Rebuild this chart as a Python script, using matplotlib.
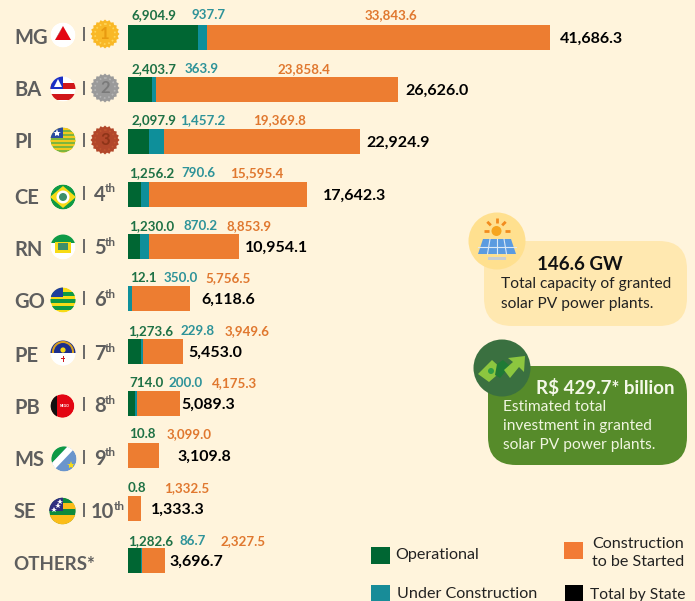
import matplotlib
matplotlib.use("Agg")
import matplotlib.pyplot as plt
import numpy as np
from matplotlib.patches import Circle, FancyBboxPatch, Polygon, Rectangle

plt.rcParams['font.family'] = ['Lato', 'Carlito', 'Open Sans', 'DejaVu Sans']

states = ['MG', 'BA', 'PI', 'CE', 'RN', 'GO', 'PE', 'PB', 'MS', 'SE', 'OTHERS*']
ranks = ['1', '2', '3', '4', '5', '6', '7', '8', '9', '10', '']
operational = [6904.9, 2403.7, 2097.9, 1256.2, 1230.0, 12.1, 1273.6, 714.0, 10.8, 0.8, 1282.6]
under_construction = [937.7, 363.9, 1457.2, 790.6, 870.2, 350.0, 229.8, 200.0, 0, 0, 86.7]
to_be_started = [33843.6, 23858.4, 19369.8, 15595.4, 8853.9, 5756.5, 3949.6, 4175.3, 3099.0, 1332.5, 2327.5]
totals = [41686.3, 26626.0, 22924.9, 17642.3, 10954.1, 6118.6, 5453.0, 5089.3, 3109.8, 1333.3, 3696.7]

# label placement in pixels
op_x = [154, 154, 154, 152, 152, 143, 151, 146, 142, 137, 151]
uc_x = [209, 202, 203, 198, 201, 181, 198, 186, None, None, 193]
ts_x = [391, 304, 279, 257, 249, 228, 247, 235, 189, 187, 243]
tot_x = [560, 405, 366, 323, 245, 201, 188, 181, 177, 151, 169]
lab_y = [15, 69, 120, 173, 226, 278, 331, 383, 434, 488, 541]
bar_y = [37, 89.5, 141.5, 194, 246.5, 298.5, 351, 403, 455.5, 508, 560]
state_y = [37.5, 90.5, 142.5, 197.5, 249.5, 301.5, 355.5, 408.5, 459.5, 512.5, 564.5]
flag_y = [35, 89, 140, 197, 247, 300, 353, 406, 459, 511]
rank_y = [34, 88, 140, 193, 246, 298, 352, 404, 457, 510]

bg = '#FFF4DC'
c_op = '#006633'
c_uc = '#0E8F9A'
c_ts = '#ED7D31'
grey = '#5E5E5E'

W, H = 695, 601
fig = plt.figure(figsize=(W / 100, H / 100), dpi=100, facecolor=bg)

# bars: x=0 sits at pixel 128, 41,686.3 ends at pixel 550
scale = (550 - 128) / 41686.3
ax = fig.add_axes([128 / W, 0, 1 - 128 / W, 1])
ax.set_xlim(0, (W - 128) / scale)
ax.set_ylim(H, 0)
ax.axis('off')
op = np.array(operational)
uc = np.array(under_construction)
ts = np.array(to_be_started)
ax.barh(bar_y, op, height=25, color=c_op)
ax.barh(bar_y, uc, left=op, height=25, color=c_uc)
ax.barh(bar_y, ts, left=op + uc, height=25, color=c_ts)

# overlay in pixel coordinates for text and icons
ov = fig.add_axes([0, 0, 1, 1])
ov.set_xlim(0, W)
ov.set_ylim(H, 0)
ov.axis('off')
ov.patch.set_alpha(0)


def txt(x, y, s, size, color='black', weight='normal', ha='left'):
    return ov.text(x, y, s, fontsize=size, color=color, fontweight=weight, ha=ha, va='center')


for i in range(len(states)):
    txt(op_x[i], lab_y[i], f'{operational[i]:,.1f}', 9.6, '#1E7145', 'bold', 'center')
    if uc_x[i] is not None:
        txt(uc_x[i], lab_y[i], f'{under_construction[i]:,.1f}', 9.6, '#2E9399', 'bold', 'center')
    txt(ts_x[i], lab_y[i], f'{to_be_started[i]:,.1f}', 9.6, '#E0782F', 'bold', 'center')
    txt(tot_x[i], bar_y[i] + 1.5, f'{totals[i]:,.1f}', 11.5, 'black', 'bold')
    if states[i] == 'OTHERS*':
        txt(13, state_y[i], states[i], 13.5, grey, 'bold')
    else:
        txt(14, state_y[i], states[i], 14.5, grey, 'bold')


def flag_base(cy, cx=63, r=12.5):
    clip = Circle((cx, cy), r, transform=ov.transData)
    return clip, cx, cy, r


def rect(clip, x, y, w, h, color):
    p = Rectangle((x, y), w, h, color=color, lw=0)
    ov.add_patch(p)
    p.set_clip_path(clip)


def poly(clip, pts, color):
    p = Polygon(pts, closed=True, color=color, lw=0)
    ov.add_patch(p)
    p.set_clip_path(clip)


def circ(clip, x, y, r, color):
    p = Circle((x, y), r, color=color, lw=0)
    ov.add_patch(p)
    p.set_clip_path(clip)


# MG
clip, cx, cy, r = flag_base(flag_y[0])
circ(clip, cx, cy, r, 'white')
poly(clip, [(cx - 8, cy + 5), (cx + 8, cy + 5), (cx, cy - 9)], '#E30613')
poly(clip, [(cx - 3.5, cy - 2), (cx, cy - 9), (cx - 8, cy + 5)], '#9A9A9A')
# BA
clip, cx, cy, r = flag_base(flag_y[1])
circ(clip, cx, cy, r, 'white')
rect(clip, cx - 13, cy - 6, 26, 6, '#D0161B')
rect(clip, cx - 13, cy + 5, 26, 6, '#D0161B')
rect(clip, cx - 13, cy - 13, 13, 13, '#1B2FC4')
poly(clip, [(cx - 9, cy - 2), (cx - 1, cy - 2), (cx - 5, cy - 10)], 'white')
# PI
clip, cx, cy, r = flag_base(flag_y[2])
circ(clip, cx, cy, r, '#7FB53C')
for dy in range(-12, 13, 4):
    rect(clip, cx - 13, cy + dy, 26, 2, '#F2C91E')
rect(clip, cx - 13, cy - 13, 13, 11, '#2A4BA0')
ov.plot(cx - 6, cy - 7, marker='*', ms=6, color='white', mew=0)
# CE
clip, cx, cy, r = flag_base(flag_y[3])
circ(clip, cx, cy, r, '#0E9A45')
poly(clip, [(cx - 13, cy), (cx, cy - 11), (cx + 13, cy), (cx, cy + 11)], '#F7DB17')
circ(clip, cx, cy, 6.5, 'white')
circ(clip, cx, cy, 4, '#3E8F6B')
# RN
clip, cx, cy, r = flag_base(flag_y[4])
circ(clip, cx, cy, r, 'white')
rect(clip, cx - 13, cy - 13, 26, 9, '#0E9A45')
rect(clip, cx - 8, cy - 5, 16, 11, '#F7DB17')
rect(clip, cx - 5, cy - 4, 10, 7, '#3E8F6B')
# GO
clip, cx, cy, r = flag_base(flag_y[5])
circ(clip, cx, cy, r, '#F7DB17')
for dy in (-8, -1, 6):
    rect(clip, cx - 13, cy + dy, 26, 3.5, '#0E9A45')
rect(clip, cx - 13, cy - 13, 13, 10, '#1E3F9C')
# PE
clip, cx, cy, r = flag_base(flag_y[6])
circ(clip, cx, cy, r, 'white')
rect(clip, cx - 13, cy - 13, 26, 13, '#1C2F8C')
circ(clip, cx, cy - 1, 11, '#D8A01E')
circ(clip, cx, cy - 1, 9, '#1C2F8C')
rect(clip, cx - 13, cy, 26, 13, 'white')
circ(clip, cx, cy - 3, 2.6, '#F7DB17')
rect(clip, cx - 0.5, cy + 3, 1, 6, '#D0161B')
rect(clip, cx - 2, cy + 5, 4, 1, '#D0161B')
# PB
clip, cx, cy, r = flag_base(flag_y[7], cx=62.5, r=11.8)
circ(clip, cx, cy, r, '#E30613')
rect(clip, cx - 13, cy - 13, 7, 26, '#111111')
ov.text(cx + 2.5, cy, 'NEGO', fontsize=2.5, color='white', ha='center', va='center', fontweight='bold')
# MS
clip, cx, cy, r = flag_base(flag_y[8], cx=64)
circ(clip, cx, cy, r, '#6A95CC')
poly(clip, [(cx - 14, cy - 14), (cx + 5, cy - 14), (cx - 14, cy + 6)], '#0E9A45')
poly(clip, [(cx + 5, cy - 14), (cx + 11, cy - 11), (cx - 9, cy + 10), (cx - 14, cy + 6)], 'white')
ov.plot(cx + 7, cy + 6, marker='*', ms=6, color='#F7DB17', mew=0)
# SE
clip, cx, cy, r = flag_base(flag_y[9], cx=62.5, r=13.3)
circ(clip, cx, cy, r, '#0E8A3C')
rect(clip, cx - 14, cy - 14, 14, 14, '#2F2F7F')
rect(clip, cx, cy - 8, 14, 6, '#FBBC18')
rect(clip, cx - 14, cy + 4, 28, 10, '#FBBC18')
ov.plot([cx - 5, cx - 9, cx - 3], [cy - 5, cy - 1, cy - 9], ls='none', marker='*', ms=4, color='white', mew=0)

# separators and ranks
for i, y in enumerate(rank_y):
    ov.plot([83.5, 83.5], [y - 7, y + 7], color=grey, lw=1.3, solid_capstyle='butt')
medal_cols = [('#F9B826', '#FFD75A', '#E89A10'), ('#9A9A9A', '#B5B5B5', '#7A7A7A'), ('#B2472A', '#C0552F', '#8E3418')]
for i in range(3):
    angles = np.linspace(0, 2 * np.pi, 41)[:-1]
    radii = np.where(np.arange(40) % 2 == 0, 14.5, 12.8)
    pts = np.c_[105 + radii * np.cos(angles), rank_y[i] + radii * np.sin(angles)]
    ov.add_patch(Polygon(pts, closed=True, color=medal_cols[i][0], lw=0))
    ov.add_patch(Circle((105, rank_y[i]), 10, fill=False, ec=medal_cols[i][1], lw=1.2, ls=':'))
    txt(105, rank_y[i], ranks[i], 12, medal_cols[i][2], 'bold', 'center')
for i in range(3, 10):
    x0 = 91 if ranks[i] == '10' else 94
    txt(x0, rank_y[i] + 2, ranks[i], 14.5, grey, 'bold')
    xs = x0 + (22.5 if ranks[i] == '10' else 11)
    txt(xs, rank_y[i] - 4, 'th', 8.5, grey, 'bold')

# callouts
ov.add_patch(FancyBboxPatch((484 + 28, 241 + 28), 203 - 56, 85 - 56, boxstyle='round,pad=28,rounding_size=28',
                            fc='#FFE8B0', ec='none'))
ov.add_patch(Circle((497, 241), 28.5, fc='#FFE08F', ec='none'))
txt(580, 264.5, '146.6 GW', 13.5, '#111111', 'bold', 'center')
txt(501, 284, 'Total capacity of granted', 11.2, '#222222')
txt(501, 304, 'solar PV power plants.', 11.2, '#222222')

ov.add_patch(FancyBboxPatch((488 + 28, 366 + 28), 199 - 56, 99 - 56, boxstyle='round,pad=28,rounding_size=28',
                            fc='#568B2A', ec='none'))
ov.add_patch(Circle((502, 368), 28.5, fc='#3A7040', ec='none'))
txt(536, 387.5, 'R$ 429.7* billion', 13.5, '#F4F8E8', 'bold')
txt(503, 407, 'Estimated total', 11.2, '#F0F5E0')
txt(503, 426, 'investment in granted', 11.2, '#F0F5E0')
txt(503, 445, 'solar PV power plants.', 11.2, '#F0F5E0')

# solar icon
ov.add_patch(Circle((496.5, 231), 5, color='#F6A51E', lw=0))
for a in (180, 225, 270, 315, 0):
    ca, sa = np.cos(np.radians(a)), np.sin(np.radians(a))
    ov.plot([496.5 + 8 * ca, 496.5 + 13 * ca], [231 + 8 * sa, 231 + 13 * sa], color='#F28C1E', lw=2, solid_capstyle='butt')
ov.add_patch(Polygon([(483, 239), (511, 239), (516, 254), (478, 254)], closed=True, color='#5B9BE0', lw=0))
ov.plot([478, 516], [246.5, 246.5], color='#DCE9F5', lw=0.8)
for k in (-1, 0, 1):
    ov.plot([497 + k * 7, 497 + k * 9.5], [239, 254], color='#DCE9F5', lw=0.8)
ov.add_patch(Rectangle((488, 257), 18, 3, color='#C8CDD2', lw=0))

# money icon
ov.add_patch(Polygon([(478, 374), (492, 360), (503, 370), (489, 382)], closed=True, color='#8CC63F', lw=0))
ov.add_patch(Circle((491, 371), 3, color='#2F9E44', lw=0))
ov.add_patch(Polygon([(497, 364), (503, 360), (510, 366), (500, 378), (495, 375)], closed=True, color='#1F7A35', lw=0))
ov.add_patch(Polygon([(525, 356), (524, 372), (519, 367), (510, 378), (504, 370), (513, 362), (508, 358)],
                     closed=True, color='#8CC63F', lw=0))

# legend
legend_boxes = [(371, 547, 19, 17, c_op), (371, 585, 19, 16, '#188C98'), (564, 542, 19, 17, '#F27B35'), (565, 585, 18, 16, 'black')]
for x, y, w, h, col in legend_boxes:
    ov.add_patch(Rectangle((x, y), w, h, color=col, lw=0))
txt(395, 555.5, 'Operational', 11.6, '#222222')
txt(397, 594.5, 'Under Construction', 11.6, '#222222')
txt(592, 544.5, 'Construction', 11.6, '#222222')
txt(592, 562.5, 'to be Started', 11.6, '#222222')
txt(590, 595, 'Total by State', 11.2, '#222222')

fig.savefig('out.png', dpi=100, facecolor=bg)
